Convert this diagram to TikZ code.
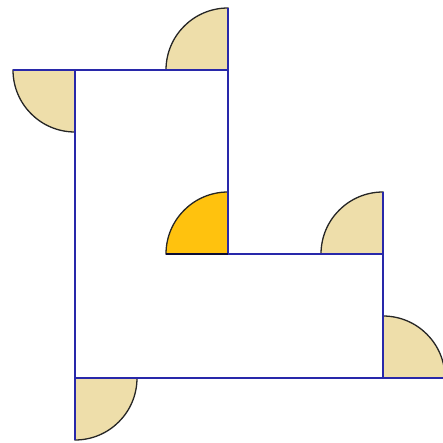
\documentclass[tikz,border=0pt]{standalone}
\definecolor{edgeblue}{RGB}{40,40,170}
\definecolor{tan}{RGB}{238,222,170}
\definecolor{gold}{RGB}{255,194,14}
\begin{document}
\begin{tikzpicture}[x=1pt,y=-1pt,
  sector/.style={draw=black!85,line width=1.3pt,fill=tan},
  edge/.style={draw=edgeblue,line width=1.4pt}]
\useasboundingbox (0,0) rectangle (443,443);
\def\r{62}
\coordinate (A) at (75,70);
\coordinate (B) at (228,70);
\coordinate (C) at (228,254);
\coordinate (D) at (383,254);
\coordinate (E) at (383,378);
\coordinate (F) at (75,378);
% sectors (exterior angles)
\draw[sector] (A) -- ++(-\r,0) arc[start angle=180,end angle=90,radius=\r] -- cycle;
\draw[sector] (B) -- ++(0,-\r) arc[start angle=-90,end angle=-180,radius=\r] -- cycle;
\draw[sector,fill=gold] (C) -- ++(0,-\r) arc[start angle=-90,end angle=-180,radius=\r] -- cycle;
\draw[sector] (D) -- ++(0,-\r) arc[start angle=-90,end angle=-180,radius=\r] -- cycle;
\draw[sector] (E) -- ++(\r,0) arc[start angle=0,end angle=-90,radius=\r] -- cycle;
\draw[sector] (F) -- ++(0,\r) arc[start angle=90,end angle=0,radius=\r] -- cycle;
% polygon and extended sides
\draw[edge] (A) -- (B) -- (C) -- (D) -- (E) -- (F) -- cycle;
\draw[edge] (A) -- ++(-\r,0);
\draw[edge] (B) -- ++(0,-\r);
\draw[edge] (D) -- ++(0,-\r);
\draw[edge] (E) -- ++(\r,0);
\draw[edge] (F) -- ++(0,\r);
\draw[edge,draw=black!70!edgeblue] (C) -- ++(-\r,0);
\end{tikzpicture}
\end{document}
